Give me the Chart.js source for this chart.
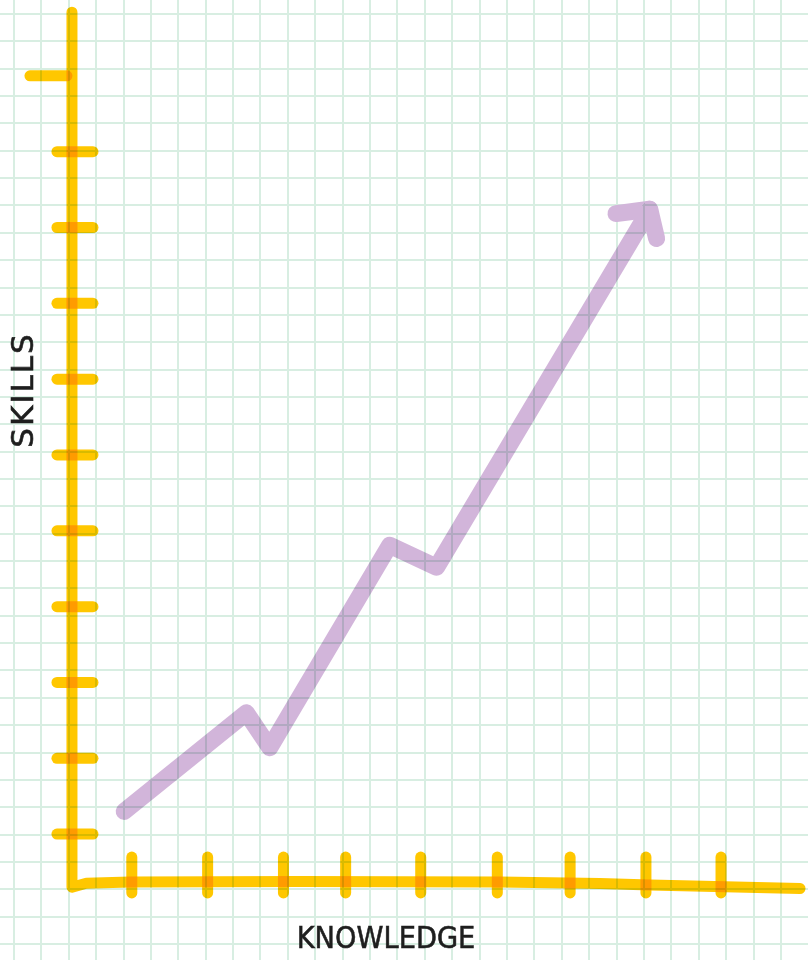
<!DOCTYPE html>
<html>
<head>
<meta charset="utf-8">
<script src="https://cdn.jsdelivr.net/npm/chart.js@4.4.1/dist/chart.umd.min.js"></script>
<style>
  html, body { margin: 0; padding: 0; background: #ffffff; }
  canvas { display: block; }
</style>
</head>
<body>
<canvas id="chart" width="808" height="960"></canvas>
<script>
// Growth path: knowledge (x) against skills (y)
const knowledge = [0.9, 2.51, 2.82, 4.4, 5.02, 7.83];
const skills    = [1.3, 2.6, 2.14, 4.81, 4.52, 9.24];

// Hand-drawn tick marks along each axis
const knowledgeTicks = [1, 2, 3, 3.82, 4.81, 5.82, 6.78, 7.78, 8.77];
const skillsTicks    = [1, 2, 3, 4, 5, 6, 7, 8, 9, 10, 11];

// The knowledge axis is drawn freehand, so it sags a little
const baseX = [0.211, 0.40, 0.976, 3.218, 5.855, 7.174, 7.834, 9.812];
const baseY = [0.300, 0.352, 0.369, 0.375, 0.369, 0.349, 0.329, 0.283];

const axisTitleX = 'KNOWLEDGE';
const axisTitleY = 'SKILLS';

// Value window shown on the paper
const X_MIN = -0.738, X_MAX = 9.917;
const Y_MIN = -0.66,  Y_MAX = 12;

const PAPER = '#d8eee2';
const YELLOW = '#ffc700';
const PURPLE = '#d2b5da';
const INK = '#1e1e1e';

// Graph-paper lines come from the scales' own grid
function paperTicks(start, step, lo, hi) {
  const t = [];
  if (step > 0) { for (let v = start; v <= hi + 1e-9; v += step) t.push({ value: v }); }
  else { for (let v = start; v >= lo - 1e-9; v += step) t.push({ value: v }); }
  return t;
}

const multiplyLine = {
  id: 'multiplyLine',
  beforeDatasetDraw(chart) {
    chart.ctx.save();
    chart.ctx.globalCompositeOperation = 'multiply';
  },
  afterDatasetDraw(chart) {
    chart.ctx.restore();
  }
};

const whiteBackground = {
  id: 'whiteBackground',
  beforeDraw(chart) {
    const ctx = chart.ctx;
    ctx.save();
    ctx.fillStyle = '#ffffff';
    ctx.fillRect(0, 0, chart.width, chart.height);
    ctx.restore();
  }
};

const handAxes = {
  id: 'handAxes',
  afterDatasetsDraw(chart) {
    const ctx = chart.ctx;
    const sx = chart.scales.x, sy = chart.scales.y;
    const px = v => sx.getPixelForValue(v);
    const py = v => sy.getPixelForValue(v);

    ctx.save();
    ctx.globalCompositeOperation = 'multiply';
    ctx.strokeStyle = YELLOW;
    ctx.lineWidth = 11;
    ctx.lineCap = 'round';
    ctx.lineJoin = 'round';

    // skills axis running down into the knowledge axis, one stroke
    ctx.beginPath();
    ctx.moveTo(px(baseX[0]), py(11.84));
    ctx.lineTo(px(baseX[0]), py(baseY[0]));
    for (let i = 1; i < baseX.length; i++) ctx.lineTo(px(baseX[i]), py(baseY[i]));
    ctx.stroke();

    // skills ticks; the top one is drawn a bit further left
    skillsTicks.forEach((v, i) => {
      const span = i === skillsTicks.length - 1 ? [-0.343, 0.145] : [0.013, 0.488];
      ctx.beginPath();
      ctx.moveTo(px(span[0]), py(v));
      ctx.lineTo(px(span[1]), py(v));
      ctx.stroke();
    });

    // knowledge ticks
    knowledgeTicks.forEach(v => {
      ctx.beginPath();
      ctx.moveTo(px(v), py(0.698));
      ctx.lineTo(px(v), py(0.224));
      ctx.stroke();
    });
    ctx.restore();

    // arrow head on the growth path
    const pts = chart.getDatasetMeta(0).data;
    const a = pts[pts.length - 2], b = pts[pts.length - 1];
    const back = Math.atan2(a.y - b.y, a.x - b.x);
    const l1 = 34, l2 = 30;
    const s1 = 52 * Math.PI / 180, s2 = -44 * Math.PI / 180;
    ctx.save();
    ctx.globalCompositeOperation = 'darken';
    ctx.strokeStyle = PURPLE;
    ctx.lineWidth = 17;
    ctx.lineCap = 'round';
    ctx.lineJoin = 'round';
    ctx.beginPath();
    ctx.moveTo(b.x + l1 * Math.cos(back + s1), b.y + l1 * Math.sin(back + s1));
    ctx.lineTo(b.x, b.y);
    ctx.lineTo(b.x + l2 * Math.cos(back + s2), b.y + l2 * Math.sin(back + s2));
    ctx.stroke();
    ctx.restore();
  },
  afterDraw(chart) {
    const ctx = chart.ctx;
    ctx.save();
    ctx.fillStyle = INK;
    ctx.strokeStyle = INK;
    ctx.lineWidth = 0.6;
    ctx.font = '31px "DejaVu Sans"';
    ctx.textAlign = 'center';
    ctx.textBaseline = 'alphabetic';

    ctx.save();
    ctx.translate(386, 948);
    ctx.scale(0.88, 1);
    ctx.fillText(axisTitleX, 0, 0);
    ctx.strokeText(axisTitleX, 0, 0);
    ctx.restore();

    ctx.save();
    ctx.translate(33, 391);
    ctx.rotate(-Math.PI / 2);
    ctx.letterSpacing = '2px';
    ctx.fillText(axisTitleY, 1, 0);
    ctx.strokeText(axisTitleY, 1, 0);
    ctx.restore();
    ctx.restore();
  }
};

new Chart(document.getElementById('chart'), {
  type: 'line',
  data: {
    datasets: [{
      data: knowledge.map((k, i) => ({ x: k, y: skills[i] })),
      borderColor: PURPLE,
      borderWidth: 17,
      borderCapStyle: 'round',
      borderJoinStyle: 'round',
      pointRadius: 0,
      tension: 0,
      fill: false
    }]
  },
  options: {
    responsive: false,
    animation: false,
    devicePixelRatio: 1,
    layout: { padding: 0 },
    plugins: { legend: { display: false }, tooltip: { enabled: false } },
    scales: {
      x: {
        type: 'linear',
        min: X_MIN, max: X_MAX,
        afterBuildTicks: s => { s.ticks = paperTicks(-0.554, 0.3612, X_MIN, X_MAX); },
        ticks: { display: false },
        border: { display: false },
        grid: { color: PAPER, lineWidth: 2, drawTicks: false }
      },
      y: {
        type: 'linear',
        min: Y_MIN, max: Y_MAX,
        afterBuildTicks: s => { s.ticks = paperTicks(11.815, -0.3607, Y_MIN, Y_MAX); },
        ticks: { display: false },
        border: { display: false },
        grid: { color: PAPER, lineWidth: 2, drawTicks: false }
      }
    }
  },
  plugins: [whiteBackground, multiplyLine, handAxes]
});
</script>
</body>
</html>
